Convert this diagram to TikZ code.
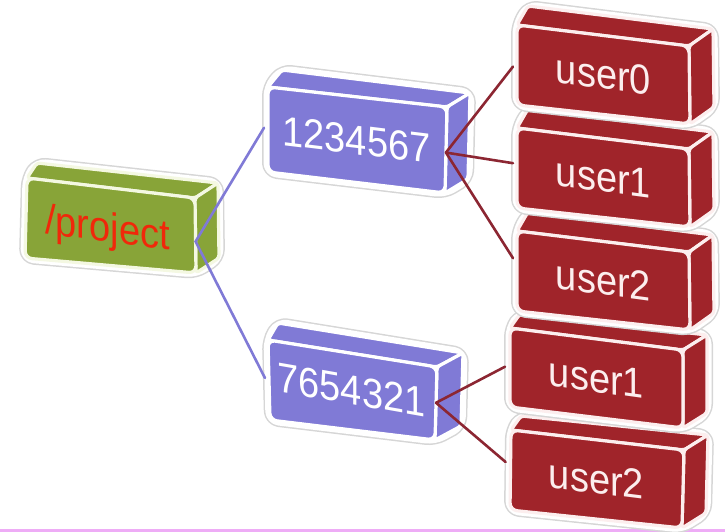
\documentclass[tikz,border=0pt]{standalone}
\usepackage{fontspec}
\setmainfont{Liberation Sans}
\usetikzlibrary{calc}

\definecolor{grnfill}{RGB}{136,164,56}
\definecolor{grnedge}{RGB}{244,248,226}
\definecolor{bluefill}{RGB}{128,122,214}
\definecolor{redfill}{RGB}{160,36,42}
\definecolor{rededge}{RGB}{252,238,238}
\definecolor{projred}{RGB}{240,40,10}
\definecolor{bluelink}{RGB}{128,122,214}
\definecolor{redlink}{RGB}{140,38,50}
\definecolor{footline}{RGB}{238,172,246}

\tikzset{
  halo/.style={line width=12pt, draw=black!16, rounded corners=9pt, line join=round,
               postaction={draw=white, line width=9pt}},
  grn face/.style={fill=grnfill, draw=grnedge},
  grn text/.style={text=projred, xshift=-4pt, yshift=-5pt},
  blu face/.style={fill=bluefill, draw=white},
  blu text/.style={text=white},
  red face/.style={fill=redfill, draw=rededge},
  red text/.style={text=rededge},
  boxface/.style={line width=3.2pt, line join=round, rounded corners=3pt},
  frontface/.style={line width=3.2pt, line join=round, rounded corners=7pt},
  boxtext/.style={font=\fontsize{38}{40}\selectfont, inner sep=0pt, yscale=1.1},
  linkline/.style={line width=2.6pt, line cap=round},
}

% A block seen in perspective: front corners tl, tr, br, bl,
% back offsets of the left and right edges, colour scheme, caption.
\newcommand\boxblock[9]{%
  \coordinate (#1-tl) at (#2);
  \coordinate (#1-tr) at (#3);
  \coordinate (#1-br) at (#4);
  \coordinate (#1-bl) at (#5);
  \coordinate (#1-btl) at ($(#1-tl)+(#6)$);
  \coordinate (#1-btr) at ($(#1-tr)+(#7)$);
  \coordinate (#1-bbr) at ($(#1-br)+(#7)$);
  \path[halo] (#1-bl) -- (#1-tl) -- (#1-btl) -- (#1-btr) -- (#1-bbr) -- (#1-br) -- cycle;
  \filldraw[boxface, #8 face] (#1-tl) -- (#1-btl) -- (#1-btr) -- (#1-tr) -- cycle;
  \filldraw[boxface, #8 face] (#1-tr) -- (#1-btr) -- (#1-bbr) -- (#1-br) -- cycle;
  \filldraw[frontface, #8 face] (#1-tl) -- (#1-tr) -- (#1-br) -- (#1-bl) -- cycle;
  \path let \p1=(#1-tl), \p2=(#1-tr), \n1={(\y2-\y1)/(\x2-\x1)} in
    node[boxtext, #8 text, yslant=\n1] (#1) at ($(#1-tl)!.5!(#1-br)$) {#9};
}

\begin{document}
\begin{tikzpicture}[x=1pt,y=-1pt]
\useasboundingbox (0,0) rectangle (725,532);
\fill[footline] (0,529) rectangle (725,532);

% root and the two project blocks
\boxblock{proj}{27,178}{195,198}{196,273}{25,258}{10,-15}{23,-15}{grn}{/project}
\boxblock{ga}{268,87}{447,107}{445,193}{268,172}{14,-17}{23,-14}{blu}{1234567}
\boxblock{gb}{268,340}{437,367}{435,440}{270,420}{10,-17}{26,-14}{blu}{7654321}

% user blocks, lower ones first
\boxblock{b2}{511,430}{684,450}{682,528}{510,510}{10,-14}{24,-15}{red}{user2}
\boxblock{b1}{510,328}{683,350}{683,428}{510,407}{10,-14}{24,-15}{red}{user1}
\boxblock{a2}{517,231}{689,252}{690,330}{517,311}{11,-19}{24,-17}{red}{user2}
\boxblock{a1}{517,128}{689,149}{690,227}{517,208}{11,-19}{24,-17}{red}{user1}
\boxblock{a0}{517,25}{689,46}{690,124}{517,105}{11,-19}{24,-17}{red}{user0}

% connector ends
\coordinate (proj-out) at ($(proj-tr)!.58!(proj-br)$);
\coordinate (ga-in) at ($(ga-tl)!.48!(ga-bl)+(-4,0)$);
\coordinate (gb-in) at ($(gb-tl)!.475!(gb-bl)+(-4,0)$);
\coordinate (ga-out) at ($(ga-tr)!.53!(ga-br)$);
\coordinate (gb-out) at ($(gb-tr)!.49!(gb-br)$);
\coordinate (a0-in) at ($(a0-tl)!.52!(a0-bl)+(-4,0)$);
\coordinate (a1-in) at ($(a1-tl)!.44!(a1-bl)+(-4,0)$);
\coordinate (a2-in) at ($(a2-tl)!.34!(a2-bl)+(-4,0)$);
\coordinate (b1-in) at ($(b1-tl)!.49!(b1-bl)+(-5,0)$);
\coordinate (b2-in) at ($(b2-tl)!.40!(b2-bl)+(-5,0)$);

% connectors
\draw[linkline, bluelink] (ga-in) -- (proj-out) -- (gb-in);
\draw[linkline, redlink] (ga-out) -- (a0-in);
\draw[linkline, redlink] (ga-out) -- (a1-in);
\draw[linkline, redlink] (ga-out) -- (a2-in);
\draw[linkline, redlink] (gb-out) -- (b1-in);
\draw[linkline, redlink] (gb-out) -- (b2-in);
\end{tikzpicture}
\end{document}
